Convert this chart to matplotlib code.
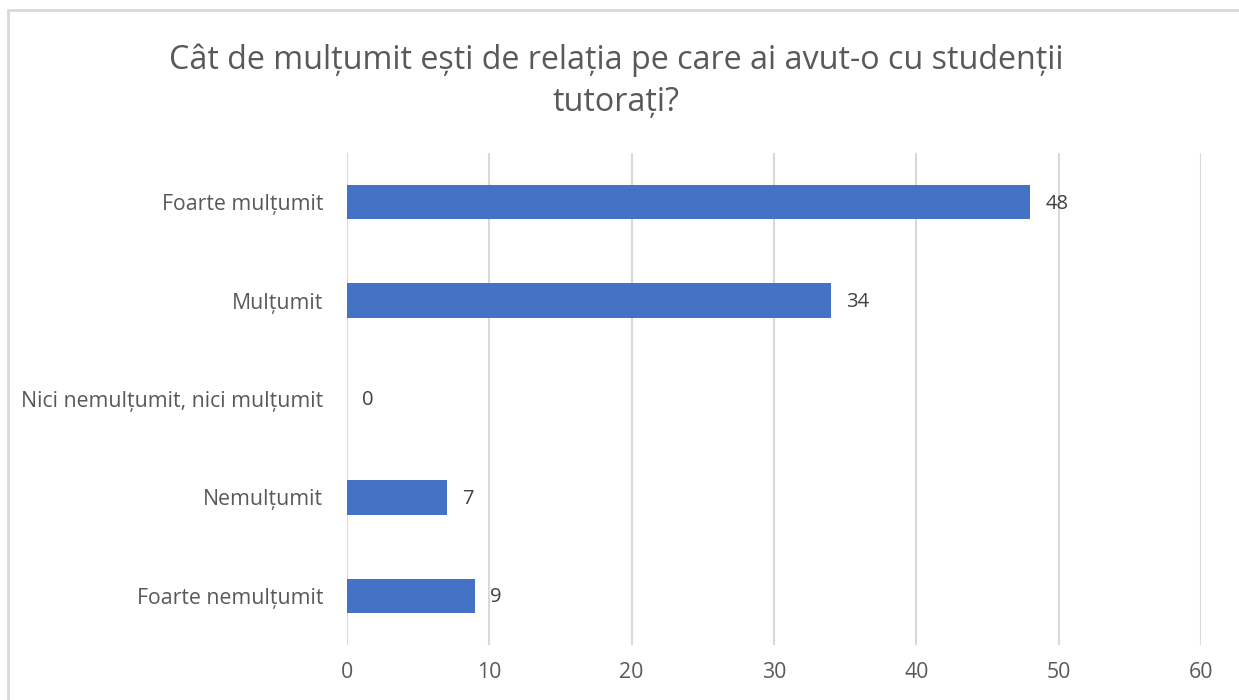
import matplotlib
matplotlib.use("Agg")
import matplotlib.pyplot as plt
from matplotlib.patches import Rectangle

categories = ["Foarte nemulțumit", "Nemulțumit", "Nici nemulțumit, nici mulțumit",
              "Mulțumit", "Foarte mulțumit"]
values = [9, 7, 0, 34, 48]
xticks = [0, 10, 20, 30, 40, 50, 60]
title = "Cât de mulțumit ești de relația pe care ai avut-o cu studenții\ntutorați?"

plt.rcParams["font.family"] = ["Open Sans", "DejaVu Sans"]

fig = plt.figure(figsize=(12.39, 7), dpi=100)
ax = fig.add_axes([347 / 1239, 1 - 645 / 700, 854 / 1239, 492 / 700])

ax.barh(range(len(categories)), values, height=0.35, color="#4472C4", zorder=3)
for i, v in enumerate(values):
    ax.annotate(str(v), (v, i), xytext=(11, -1), textcoords="offset points",
                va="center", ha="left", fontsize=14.5, color="#404040")

ax.set_xlim(0, 60)
ax.set_ylim(-0.5, len(categories) - 0.5)
ax.set_xticks(xticks)
ax.set_yticks(range(len(categories)))
ax.set_yticklabels(categories)
ax.grid(axis="x", color="#D9D9D9", linewidth=1.5, zorder=0)
for s in ax.spines.values():
    s.set_visible(False)
ax.tick_params(axis="both", length=0, labelsize=15.3, labelcolor="#595959")
ax.tick_params(axis="y", pad=17)
ax.tick_params(axis="x", pad=12)

fig.text(0.497, 1 - 81 / 700, title, ha="center", va="center", fontsize=23.2,
         color="#595959", linespacing=1.35)

# chart border (cropped on the right and bottom)
fig.patches.append(Rectangle((8 / 1239, -0.1), 1.2, 1 - 10 / 700 + 0.1,
                             transform=fig.transFigure, fill=False,
                             edgecolor="#D9D9D9", linewidth=2))

fig.savefig("out.png", dpi=100)
